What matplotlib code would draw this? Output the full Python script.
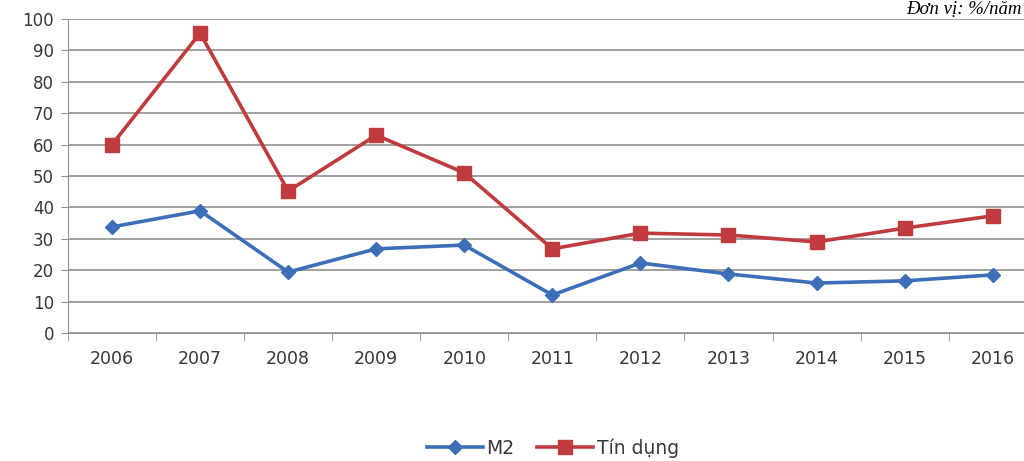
import matplotlib
matplotlib.use('Agg')
import matplotlib.pyplot as plt
import numpy as np

years = ['2006', '2007', '2008', '2009', '2010', '2011', '2012', '2013', '2014', '2015', '2016']
m2 = [33.8, 38.9, 19.4, 26.8, 28.0, 12.1, 22.3, 18.8, 15.9, 16.6, 18.5]
tin_dung = [60.0, 95.5, 45.2, 63.0, 51.0, 26.8, 31.8, 31.2, 29.0, 33.4, 37.3]

blue = '#3c6fb8'
red = '#bf3b3d'
text_color = '#383838'

fig = plt.figure(figsize=(10.24, 4.61), dpi=100)
ax = fig.add_axes([0.0664, 0.2777, 0.946, 0.6811])

x = np.arange(len(years))
ax.plot(x, m2, color=blue, lw=2.6, marker='D', markersize=7, label='M2', zorder=3)
ax.plot(x, tin_dung, color=red, lw=2.6, marker='s', markersize=10, label='Tín dụng', zorder=3)

ax.set_xlim(-0.5, len(years) - 0.5)
ax.set_ylim(0, 100)
ax.set_yticks(range(0, 101, 10))
ax.yaxis.grid(True, color='#a0a0a0', lw=1.4)
ax.set_axisbelow(True)

ax.set_xticks(x)
ax.set_xticklabels(years)
ax.set_xticks(np.arange(-0.5, len(years), 1), minor=True)
ax.tick_params(axis='x', which='major', length=0, pad=12, labelsize=12.5, labelcolor=text_color)
ax.tick_params(axis='x', which='minor', length=6, color='#909090')
ax.tick_params(axis='y', length=5, color='#909090', labelsize=12, labelcolor=text_color, pad=5)

for s in ['top', 'right']:
    ax.spines[s].set_visible(False)
ax.spines['left'].set_color('#909090')
ax.spines['bottom'].set_color('#909090')

fig.legend(loc='lower center', bbox_to_anchor=(0.54, -0.03), ncol=2, frameon=False,
           fontsize=13.5, handlelength=3, columnspacing=1.2, handletextpad=0.2,
           labelcolor=text_color)

fig.text(0.998, 0.998, 'Đơn vị: %/năm', ha='right', va='top', fontsize=13.5,
         style='italic', family='Liberation Serif', color='black')

fig.savefig('out.png', dpi=100)
